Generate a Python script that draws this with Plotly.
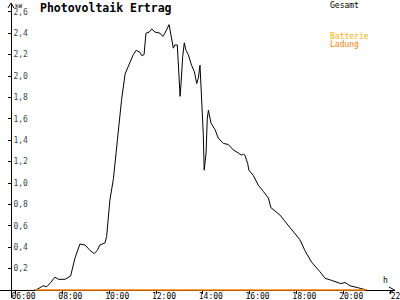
import plotly.graph_objects as go

# ---- data ----
hours = [6.80, 6.87, 7.18, 7.33, 7.50, 7.68, 7.83, 8.11, 8.35, 8.54, 8.75, 8.97, 9.18, 9.36, 9.49,
         9.60, 9.82, 9.89, 10.03, 10.18, 10.35, 10.53, 10.68, 10.82, 11.03, 11.15, 11.25, 11.32,
         11.39, 11.49, 11.57, 11.71, 11.82, 11.96, 12.17, 12.29, 12.38, 12.56, 12.74, 12.80,
         12.91, 12.95, 13.03, 13.07, 13.14, 13.21, 13.28, 13.38, 13.52, 13.64, 13.74, 13.81,
         13.88, 13.95, 14.02, 14.06, 14.14, 14.19, 14.24, 14.35, 14.52, 14.66, 14.88, 15.09,
         15.30, 15.52, 15.66, 15.73, 15.80, 15.92, 15.97, 16.16, 16.37, 16.59, 16.80, 16.91,
         17.09, 17.30, 17.48, 17.59, 17.87, 18.15, 18.36, 18.65, 19.01, 19.22, 19.50, 19.79,
         19.90, 20.08, 20.29, 20.65, 20.93, 21.00]
gesamt_kw = [0, 0.0, 0.04, 0.03, 0.07, 0.12, 0.10, 0.10, 0.13, 0.30, 0.43, 0.42, 0.37, 0.34, 0.37,
             0.42, 0.44, 0.50, 0.84, 1.04, 1.40, 1.78, 2.02, 2.09, 2.20, 2.24, 2.23, 2.22,
             2.19, 2.20, 2.40, 2.41, 2.44, 2.41, 2.40, 2.37, 2.40, 2.48, 2.26, 2.29,
             2.29, 2.10, 1.81, 1.93, 2.18, 2.31, 2.24, 2.20, 2.10, 2.04, 1.93, 1.98,
             2.10, 1.78, 1.46, 1.12, 1.28, 1.60, 1.68, 1.56, 1.50, 1.42, 1.37, 1.36,
             1.31, 1.28, 1.26, 1.27, 1.26, 1.18, 1.12, 1.07, 0.98, 0.92, 0.86, 0.77,
             0.74, 0.70, 0.65, 0.62, 0.55, 0.47, 0.37, 0.26, 0.17, 0.11, 0.09, 0.07,
             0.06, 0.07, 0.04, 0.02, 0.005, 0]
batterie_hours = [6.83, 20.97]
batterie_kw = [0, 0]

x_tick_vals = [6, 8, 10, 12, 14, 16, 18, 20, 22]
x_tick_text = ["06:00", "08:00", "10:00", "12:00", "14:00", "16:00", "18:00", "20:00", "22:"]
y_tick_vals = [0.2, 0.4, 0.6, 0.8, 1.0, 1.2, 1.4, 1.6, 1.8, 2.0, 2.2, 2.4, 2.6]

FONT = "DejaVu Sans Mono"
XMIN, XMAX = 12 - 156 / 23.4, 12 + 239 / 23.4
YMIN, YMAX = -8 / 107, 287 / 107
px_x = 1 / 23.4
px_y = 1 / 107


def py(p):  # pixel row -> paper y
    return (298 - p) / 295


def pxp(p):  # pixel col -> paper x
    return p / 395


fig = go.Figure()
fig.add_trace(go.Scatter(x=hours, y=gesamt_kw, mode="lines", name="Gesamt",
                         line=dict(color="black", width=1), showlegend=False))
fig.add_trace(go.Scatter(x=batterie_hours, y=batterie_kw, mode="lines", name="Batterie Ladung",
                         line=dict(color="#FF8000", width=1.3), showlegend=False))

fig.update_layout(
    width=400, height=300,
    margin=dict(l=0, r=5, t=3, b=2, autoexpand=False),
    paper_bgcolor="white", plot_bgcolor="white",
    separators=",.",
    showlegend=False,
    font=dict(family=FONT, size=8, color="black"),
    title=dict(text="<b>Photovoltaik Ertrag</b>", x=40 / 400, xanchor="left", xref="container",
               y=1 - 8 / 300, yanchor="middle", yref="container", automargin=False,
               font=dict(family=FONT, size=11.5, color="black")),
    xaxis=dict(range=[XMIN, XMAX], showgrid=False, zeroline=False, showline=True,
               linecolor="black", linewidth=1, anchor="free", automargin=False,
               position=8 / 295, tickvals=x_tick_vals, ticktext=x_tick_text,
               ticks="outside", ticklen=3, tickcolor="black", ticklabelshift=8,
               ticklabelstandoff=-5, ticklabeloverflow="allow",
               tickfont=dict(family=FONT, size=8), layer="below traces"),
    yaxis=dict(range=[YMIN, YMAX], showgrid=False, zeroline=False, showline=True,
               linecolor="black", linewidth=1, anchor="free", position=11 / 395,
               automargin=False,
               tickvals=y_tick_vals, tickformat=".1f", ticks="outside", ticklen=3,
               tickcolor="black", ticklabelposition="inside", ticklabeloverflow="allow",
               tickfont=dict(family=FONT, size=8), layer="below traces"),
)

# axis arrows
x_axis_h = XMIN + 11 / 23.4
fig.add_shape(type="path", xref="x", yref="y",
              path=f"M {XMAX - 6*px_x},{3*px_y} L {XMAX - 0.5*px_x},0 L {XMAX - 6*px_x},{-3*px_y}",
              line=dict(color="black", width=1))
fig.add_shape(type="path", xref="x", yref="y",
              path=f"M {x_axis_h - 3*px_x},{YMAX - 5*px_y} L {x_axis_h},{YMAX} L {x_axis_h + 3*px_x},{YMAX - 5*px_y}",
              line=dict(color="black", width=1))

# axis unit labels
fig.add_annotation(text="kW", x=pxp(13), y=py(0), xref="paper", yref="paper",
                   xanchor="left", yanchor="top", showarrow=False, font=dict(family=FONT, size=6))
fig.add_annotation(text="h", x=pxp(385), y=py(287), xref="paper", yref="paper",
                   xanchor="center", yanchor="bottom", showarrow=False, font=dict(family=FONT, size=8))

# legend texts
fig.add_annotation(text="Gesamt", x=pxp(328), y=py(5), xref="paper", yref="paper",
                   xanchor="left", yanchor="middle", showarrow=False,
                   font=dict(family=FONT, size=8, color="black"))
fig.add_annotation(text="Batterie", x=pxp(328), y=py(36), xref="paper", yref="paper",
                   xanchor="left", yanchor="middle", showarrow=False,
                   font=dict(family=FONT, size=8, color="#FFB000"))
fig.add_annotation(text="Ladung", x=pxp(328), y=py(44), xref="paper", yref="paper",
                   xanchor="left", yanchor="middle", showarrow=False,
                   font=dict(family=FONT, size=8, color="#FF8000"))

fig.write_html("out.html")
